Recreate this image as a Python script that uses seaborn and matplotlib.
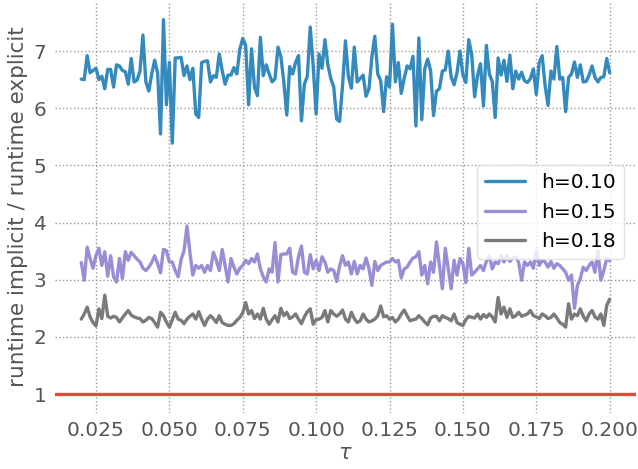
import numpy as np
import pandas as pd
from matplotlib import pyplot as plt
import seaborn as sns

# time step tau, 0.020 ... 0.200
tau = np.round(np.arange(0.020, 0.2005, 0.001), 3)

ratio_h010 = [
    6.51, 6.50, 6.92, 6.62, 6.66, 6.70, 6.50, 6.56, 6.34, 6.68,
    6.68, 6.37, 6.76, 6.74, 6.66, 6.64, 6.42, 6.87, 6.46, 6.49,
    6.65, 7.28, 6.46, 6.30, 6.60, 6.84, 6.62, 5.55, 7.55, 6.06,
    6.80, 5.39, 6.88, 6.88, 6.89, 6.57, 6.74, 6.50, 6.70, 5.90,
    5.84, 6.80, 6.82, 6.83, 6.46, 6.57, 6.54, 6.95, 6.66, 6.42,
    6.58, 6.58, 6.71, 6.60, 7.03, 7.22, 7.10, 6.06, 7.04, 6.37,
    6.22, 7.24, 6.57, 6.76, 6.60, 6.46, 6.52, 7.07, 6.90, 6.46,
    5.88, 6.73, 6.60, 6.80, 6.92, 5.78, 6.42, 6.56, 7.42, 6.74,
    5.90, 6.95, 6.70, 7.20, 6.76, 6.52, 6.37, 5.81, 5.77, 6.40,
    7.18, 6.55, 6.35, 7.07, 6.46, 6.52, 6.58, 6.21, 6.34, 6.90,
    7.26, 6.60, 6.48, 5.94, 6.55, 6.37, 7.47, 6.46, 6.80, 6.26,
    6.52, 6.74, 6.69, 6.91, 5.69, 7.23, 5.80, 6.69, 6.86, 6.66,
    5.87, 6.30, 6.34, 6.65, 6.67, 7.00, 6.55, 6.41, 6.62, 7.00,
    6.58, 6.45, 7.20, 6.94, 6.20, 6.58, 6.78, 6.04, 7.10, 6.60,
    6.47, 5.84, 6.88, 6.58, 6.84, 6.47, 6.93, 6.34, 6.65, 6.51,
    6.63, 6.48, 6.45, 6.52, 6.69, 6.24, 6.80, 6.92, 6.40, 6.05,
    6.65, 6.51, 7.08, 6.51, 6.54, 5.94, 6.54, 6.60, 6.81, 6.54,
    6.76, 6.46, 6.47, 6.58, 6.74, 6.54, 6.46, 6.54, 6.55, 6.87,
    6.62,
]

ratio_h015 = [
    3.30, 2.99, 3.57, 3.37, 3.20, 3.42, 3.55, 3.25, 3.49, 3.06,
    3.42, 3.05, 2.96, 3.37, 3.02, 3.49, 3.34, 3.48, 3.42, 3.36,
    3.31, 3.20, 3.16, 3.22, 3.30, 3.42, 3.28, 3.12, 3.53, 3.51,
    3.31, 3.31, 3.16, 3.05, 3.35, 3.51, 3.94, 3.48, 3.08, 3.25,
    3.20, 3.25, 3.13, 3.25, 3.16, 3.48, 3.34, 3.16, 3.53, 3.25,
    2.96, 3.37, 3.22, 3.10, 3.20, 3.25, 3.34, 3.28, 3.37, 3.31,
    3.45, 3.19, 3.05, 2.96, 3.19, 3.13, 3.65, 2.96, 3.44, 3.45,
    3.45, 3.55, 3.13, 3.10, 3.40, 3.59, 3.13, 3.10, 3.44, 3.19,
    3.34, 3.16, 3.40, 3.31, 3.13, 3.19, 3.16, 2.97, 3.24, 3.42,
    3.25, 3.31, 3.10, 3.32, 3.10, 3.25, 3.19, 3.38, 3.20, 2.90,
    3.32, 3.16, 3.25, 3.28, 3.31, 3.31, 3.37, 3.31, 3.34, 3.03,
    3.19, 3.22, 3.31, 3.38, 3.40, 3.49, 3.08, 3.25, 2.93, 3.31,
    3.13, 3.66, 3.25, 2.84, 3.55, 3.19, 2.84, 3.34, 3.08, 3.37,
    3.28, 2.95, 3.55, 3.08, 3.13, 3.19, 3.25, 3.16, 3.32, 3.42,
    3.19, 3.31, 3.28, 3.42, 3.31, 3.42, 3.32, 3.38, 3.40, 3.30,
    2.99, 3.31, 3.25, 3.31, 3.20, 3.51, 3.25, 3.34, 3.31, 3.22,
    3.32, 3.20, 3.28, 3.25, 3.19, 3.13, 2.99, 3.08, 2.50, 2.90,
    3.02, 3.22, 3.16, 3.25, 3.31, 3.13, 3.51, 2.99, 3.16, 3.37,
    3.33,
]

ratio_h018 = [
    2.31, 2.40, 2.52, 2.35, 2.25, 2.19, 2.49, 2.32, 2.73, 2.36,
    2.33, 2.36, 2.34, 2.26, 2.33, 2.40, 2.46, 2.38, 2.35, 2.33,
    2.32, 2.26, 2.29, 2.34, 2.32, 2.25, 2.17, 2.43, 2.37, 2.26,
    2.17, 2.30, 2.43, 2.31, 2.29, 2.23, 2.31, 2.36, 2.40, 2.31,
    2.44, 2.31, 2.20, 2.31, 2.37, 2.32, 2.25, 2.37, 2.25, 2.22,
    2.20, 2.20, 2.23, 2.29, 2.34, 2.42, 2.60, 2.40, 2.46, 2.32,
    2.40, 2.31, 2.50, 2.31, 2.22, 2.30, 2.37, 2.26, 2.50, 2.37,
    2.43, 2.32, 2.35, 2.40, 2.31, 2.23, 2.35, 2.44, 2.49, 2.22,
    2.30, 2.31, 2.34, 2.46, 2.26, 2.46, 2.40, 2.36, 2.40, 2.47,
    2.31, 2.26, 2.43, 2.32, 2.25, 2.28, 2.40, 2.31, 2.26, 2.28,
    2.31, 2.37, 2.54, 2.35, 2.37, 2.31, 2.34, 2.26, 2.31, 2.40,
    2.47, 2.37, 2.28, 2.30, 2.31, 2.37, 2.32, 2.26, 2.21, 2.33,
    2.36, 2.36, 2.28, 2.37, 2.34, 2.32, 2.28, 2.40, 2.25, 2.22,
    2.20, 2.30, 2.36, 2.34, 2.33, 2.40, 2.31, 2.39, 2.34, 2.40,
    2.35, 2.26, 2.69, 2.40, 2.52, 2.34, 2.49, 2.34, 2.37, 2.43,
    2.36, 2.38, 2.40, 2.46, 2.37, 2.35, 2.32, 2.40, 2.37, 2.32,
    2.34, 2.40, 2.33, 2.25, 2.22, 2.17, 2.58, 2.31, 2.40, 2.37,
    2.49, 2.36, 2.28, 2.40, 2.46, 2.35, 2.31, 2.40, 2.20, 2.55,
    2.66,
]

labels = ["h=0.10", "h=0.15", "h=0.18"]
colors = ["#348ABD", "#988ED5", "#7A7A7A"]

sns.set_style("whitegrid", {"grid.linestyle": ":", "grid.color": "#999999",
                            "axes.edgecolor": "white", "text.color": "#555555",
                            "xtick.color": "#555555", "ytick.color": "#555555",
                            "axes.labelcolor": "#555555"})
plt.rcParams["font.family"] = ["DejaVu Sans"]

fig, ax = plt.subplots(figsize=(6.38, 4.69), dpi=100)
for vals, lab, col in zip([ratio_h010, ratio_h015, ratio_h018], labels, colors):
    sns.lineplot(x=tau, y=vals, label=lab, color=col, linewidth=2.4, ax=ax)
ax.axhline(1, color="#E24A33", linewidth=2.4)

ax.set_xlabel(r"$\tau$", fontsize=15, labelpad=2)
ax.set_ylabel("runtime implicit / runtime explicit", fontsize=15.5, labelpad=4)
ax.tick_params(labelsize=14.5, length=0, pad=6)
ax.grid(True, linestyle=":", color="#999999", linewidth=1)
for s in ax.spines.values():
    s.set_visible(False)

leg = ax.legend(loc="upper right", bbox_to_anchor=(0.997, 0.625), fontsize=14.5,
                frameon=True, facecolor="white", edgecolor="#dddddd")
for t in leg.get_texts():
    t.set_color("black")

plt.subplots_adjust(left=0.086, right=0.997, bottom=0.12, top=0.998)
plt.savefig("out.png", dpi=100)
